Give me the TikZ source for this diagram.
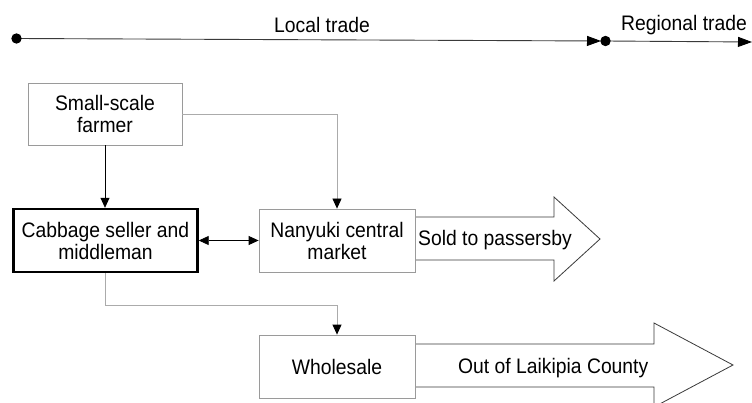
\documentclass[tikz,border=0pt]{standalone}
\usepackage{fontspec}
\setmainfont{Liberation Sans}[FakeStretch=0.92]
\usetikzlibrary{arrows.meta}
\definecolor{boxgray}{HTML}{9A9A9A}
\definecolor{linkgray}{HTML}{ABABAB}
\definecolor{outline}{HTML}{3A3A3A}
\begin{document}
\begin{tikzpicture}[x=1pt,y=-1pt,
  every node/.style={font=\fontsize{21}{22}\selectfont, inner sep=0pt},
  box/.style={draw=boxgray, line width=0.8pt, align=center, fill=white},
  keybox/.style={draw=black, line width=2.4pt, align=center, fill=white},
  tip/.style={-{Triangle[length=10pt,width=9pt,color=black]}},
  longtip/.style={-{Triangle[length=14pt,width=10pt,color=black]}},
  bothtips/.style={{Triangle[length=10pt,width=9pt]}-{Triangle[length=10pt,width=9pt]}},
  link/.style={draw=linkgray, line width=0.8pt, tip},
  bigarrow/.style={draw=outline, line width=0.8pt, fill=white, line join=miter}]
\useasboundingbox (0,0) rectangle (752,403);

% timeline of trade reach
\coordinate (d0) at (16.5,38.5);
\coordinate (t1) at (601,41);
\coordinate (d1) at (605.5,41);
\coordinate (t2) at (752,42);
\draw[draw=outline, line width=0.9pt, longtip] (d0) -- (t1);
\draw[draw=outline, line width=0.9pt, longtip] (d1) -- (t2);
\fill (d0) circle (5.2pt);
\fill (d1) circle (5.2pt);
\node[anchor=base] (local) at (322,33) {Local trade};
\node[anchor=base] (regional) at (684,31) {Regional trade};

% outgoing flows (wide arrows)
\draw[bigarrow] (415,217) -- (554,217) -- (554,197) -- (600,239) -- (554,281)
  -- (554,260) -- (415,260);
\draw[bigarrow] (415,344) -- (654,344) -- (654,323) -- (733,365) -- (654,407)
  -- (654,387) -- (415,387);

% actors
\node[box, minimum width=154pt, minimum height=62pt] (farmer) at (105,114)
  {Small-scale\\farmer};
\node[keybox, minimum width=184pt, minimum height=63pt] (seller) at (105.5,240.5)
  {Cabbage seller and\\middleman};
\node[box, minimum width=156pt, minimum height=63pt] (market) at (337,240.5)
  {Nanyuki central\\market};
\node[box, minimum width=156pt, minimum height=63pt] (wholesale) at (337,366.5)
  {Wholesale};

\node[anchor=base west] (passers) at (418,246) {Sold to passersby};
\node[anchor=base west] (county) at (458,373) {Out of Laikipia County};

% connectors
\draw[black, line width=0.8pt, tip] (farmer.south) -- (farmer.south |- seller.north);
\draw[link] (farmer.east) -| (market.north);
\draw[black, line width=0.8pt, bothtips] (seller.east) -- (market.west);
\draw[link] (seller.south) -- ++(0,32) -| (wholesale.north);
\end{tikzpicture}
\end{document}
